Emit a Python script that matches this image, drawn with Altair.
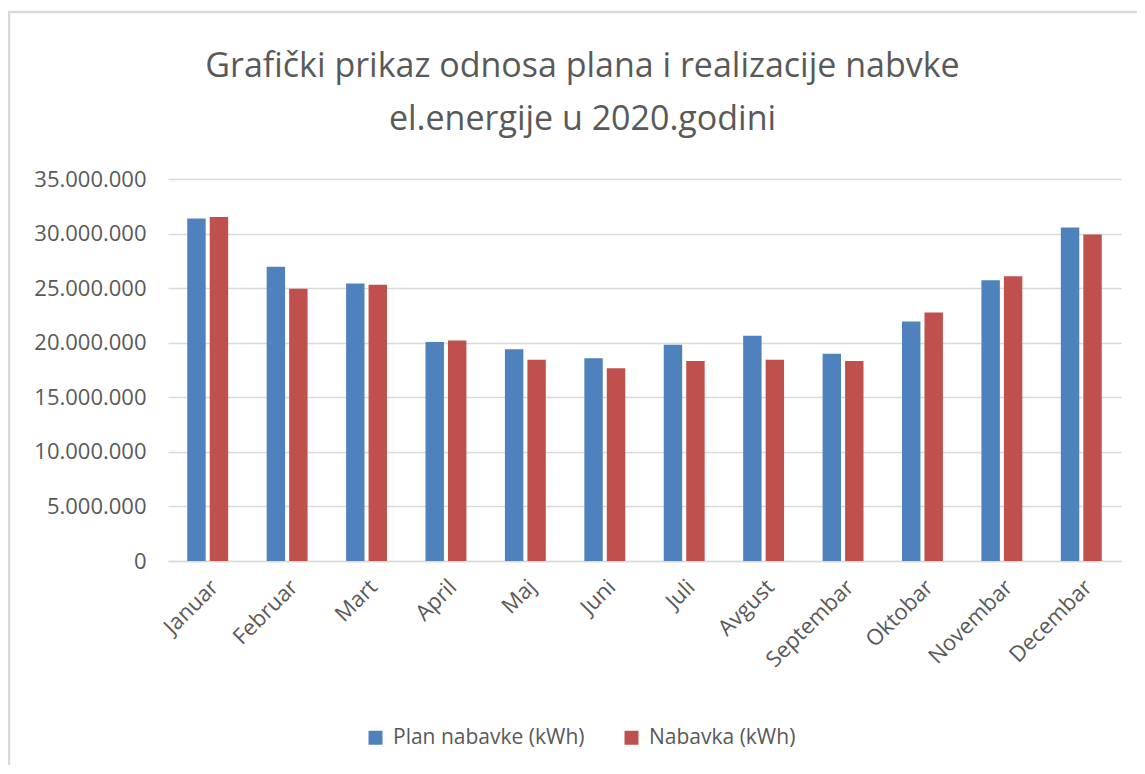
import altair as alt
import pandas as pd

months = ["Januar", "Februar", "Mart", "April", "Maj", "Juni", "Juli",
          "Avgust", "Septembar", "Oktobar", "Novembar", "Decembar"]
plan = [31370000, 26950000, 25430000, 20060000, 19390000, 18570000,
        19820000, 20640000, 19000000, 21950000, 25730000, 30550000]
nabavka = [31520000, 24940000, 25300000, 20210000, 18450000, 17650000,
           18320000, 18450000, 18320000, 22770000, 26100000, 29910000]
series = ["Plan nabavke (kWh)", "Nabavka (kWh)"]
y_ticks = [0, 5000000, 10000000, 15000000, 20000000, 25000000, 30000000, 35000000]

rows = []
for m, p, n in zip(months, plan, nabavka):
    rows.append({"month": m, "series": series[0], "value": p})
    rows.append({"month": m, "series": series[1], "value": n})
df = pd.DataFrame(rows)

FONT = "Open Sans"
GREY = "#595959"

bars = alt.Chart(df).mark_bar().encode(
    x=alt.X("month:N", sort=months,
            scale=alt.Scale(paddingInner=0.485, paddingOuter=0.2425),
            axis=alt.Axis(title=None, labelAngle=-45, labelFontSize=22,
                          labelColor=GREY, labelFont=FONT, ticks=False,
                          domainColor="#D9D9D9", domainWidth=1.5,
                          labelPadding=15)),
    xOffset=alt.XOffset("series:N", sort=series,
                        scale=alt.Scale(paddingInner=0.18, paddingOuter=0)),
    y=alt.Y("value:Q", scale=alt.Scale(domain=[0, 35000000]),
            axis=alt.Axis(title=None, values=y_ticks, labelFontSize=22,
                          labelColor=GREY, labelFont=FONT, ticks=False,
                          domain=False, gridColor="#D9D9D9", gridWidth=1.5,
                          labelPadding=22,
                          labelExpr="replace(format(datum.value, ','), regexp(',', 'g'), '.')")),
    color=alt.Color("series:N", sort=series,
                    scale=alt.Scale(domain=series, range=["#4F81BD", "#C0504D"]),
                    legend=alt.Legend(title=None, orient="none", direction="horizontal",
                                      legendX=197, legendY=548, symbolType="square",
                                      symbolSize=196, symbolStrokeWidth=0,
                                      labelFontSize=21, labelColor=GREY, labelFont=FONT,
                                      labelOffset=7, columnPadding=36, padding=0,
                                      labelLimit=400)),
)

# light frame of the chart area (top and left edges visible in the reference)
frame_top = alt.Chart().mark_rule(color="#D9D9D9", strokeWidth=2.5).encode(
    x=alt.value(-160), x2=alt.value(1000), y=alt.value(-167))
frame_left = alt.Chart().mark_rule(color="#D9D9D9", strokeWidth=2.5).encode(
    x=alt.value(-159), y=alt.value(-168), y2=alt.value(600))

chart = alt.layer(frame_top, frame_left, bars).properties(
    width=953,
    height=382,
    title=alt.TitleParams(
        text=["Grafički prikaz odnosa plana i realizacije nabvke",
              "el.energije u 2020.godini"],
        fontSize=34, font=FONT, fontWeight="normal", color=GREY,
        lineHeight=53, anchor="middle", dx=-62, offset=31, dy=158),
    autosize=alt.AutoSizeParams(type="none"),
    padding={"left": 160, "top": 171, "right": 16, "bottom": 204},
).configure_view(stroke=None)

chart.save("out.html", embed_options={"renderer": "svg", "actions": False})
